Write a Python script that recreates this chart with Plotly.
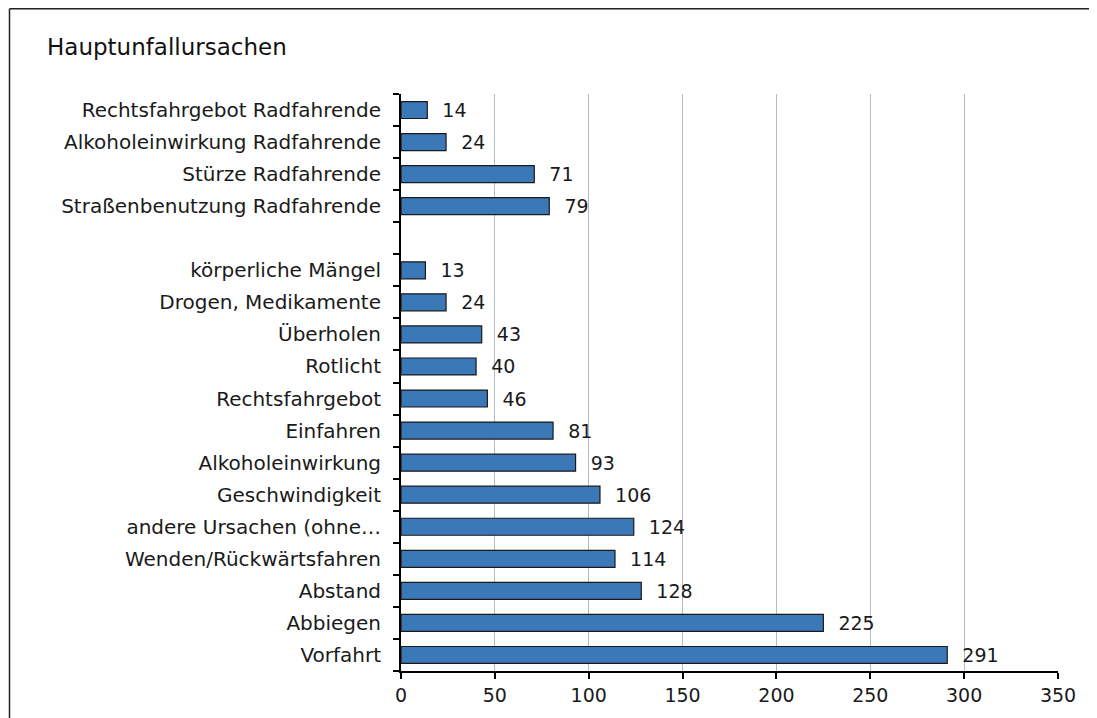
import plotly.graph_objects as go

categories = [
    "Rechtsfahrgebot Radfahrende",
    "Alkoholeinwirkung Radfahrende",
    "Stürze Radfahrende",
    "Straßenbenutzung Radfahrende",
    " ",
    "körperliche Mängel",
    "Drogen, Medikamente",
    "Überholen",
    "Rotlicht",
    "Rechtsfahrgebot",
    "Einfahren",
    "Alkoholeinwirkung",
    "Geschwindigkeit",
    "andere Ursachen (ohne…",
    "Wenden/Rückwärtsfahren",
    "Abstand",
    "Abbiegen",
    "Vorfahrt",
]
values = [14, 24, 71, 79, None, 13, 24, 43, 40, 46, 81, 93, 106, 124, 114, 128, 225, 291]
x_ticks = [0, 50, 100, 150, 200, 250, 300, 350]

FONT = "DejaVu Sans, sans-serif"

W, H = 1089, 710
L, R, T, B = 393, 39, 86, 47
PW, PH = W - L - R, H - T - B

labels = ["" if v is None else "\u00a0\u00a0" + str(v) for v in values]

fig = go.Figure(
    go.Bar(
        y=categories,
        x=values,
        orientation="h",
        marker=dict(color="#3B78B8", line=dict(color="#1a1a1a", width=1.2)),
        text=labels,
        textposition="outside",
        constraintext="none",
        textfont=dict(family=FONT, size=19, color="#1a1a1a"),
        cliponaxis=False,
        hoverinfo="x+y",
    )
)

bx0 = (1.5 - L) / PW
by1 = 1 + (T - 0.75) / PH

fig.update_layout(
    width=W,
    height=H,
    paper_bgcolor="white",
    plot_bgcolor="white",
    margin=dict(l=L, r=R, t=T, b=B, autoexpand=False),
    bargap=0.47,
    showlegend=False,
    font=dict(family=FONT, size=19, color="#1a1a1a"),
    title=dict(
        text="Hauptunfallursachen",
        x=39 / W,
        xanchor="left",
        y=1 - 39 / H,
        yanchor="middle",
        font=dict(family=FONT, size=23, color="#111111"),
    ),
    shapes=[
        dict(type="line", xref="paper", yref="paper", x0=bx0, x1=2, y0=by1, y1=by1,
             line=dict(color="#222222", width=1.5), layer="below"),
        dict(type="line", xref="paper", yref="paper", x0=bx0, x1=bx0, y0=-1, y1=by1,
             line=dict(color="#222222", width=1.5), layer="below"),
    ],
)

fig.update_xaxes(
    range=[0, 350],
    tickvals=x_ticks,
    showgrid=True,
    gridcolor="#B3B9C5",
    gridwidth=1,
    zeroline=False,
    showline=True,
    linecolor="black",
    linewidth=2,
    ticks="outside",
    ticklen=6,
    tickwidth=2,
    tickcolor="black",
    automargin=False,
    tickfont=dict(family=FONT, size=19, color="#1a1a1a"),
)

fig.update_yaxes(
    type="category",
    categoryorder="array",
    categoryarray=categories[::-1],
    autorange=False,
    range=[-0.5, len(categories) - 0.5],
    tickson="boundaries",
    showgrid=False,
    zeroline=False,
    showline=True,
    linecolor="black",
    linewidth=2,
    ticks="outside",
    ticklen=6,
    tickwidth=2,
    tickcolor="black",
    ticklabelstandoff=14,
    automargin=False,
    tickfont=dict(family=FONT, size=20, color="#1a1a1a"),
)

fig.write_html("out.html")
